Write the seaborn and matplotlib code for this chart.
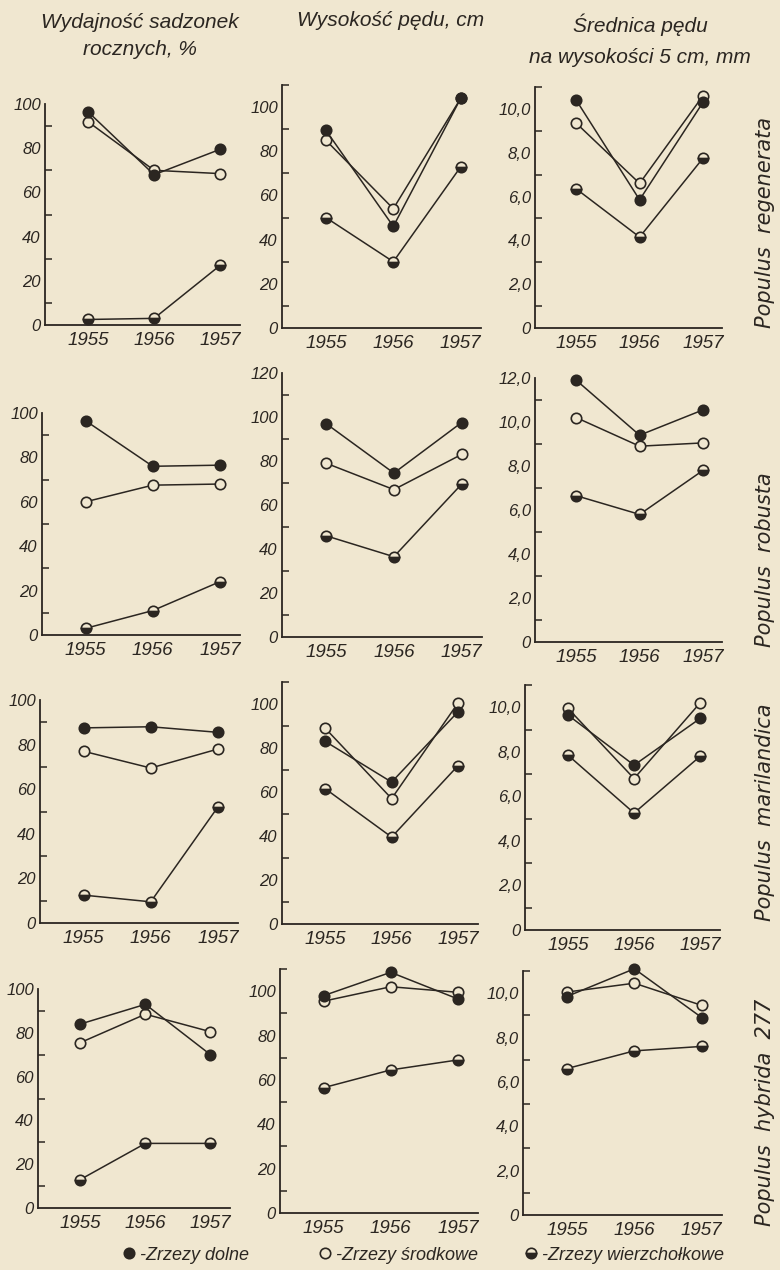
import matplotlib
matplotlib.use("Agg")
import matplotlib.pyplot as plt
from matplotlib.lines import Line2D
import seaborn as sns

sns.set_theme(style="white")
TEXT_FONT = ["Liberation Sans", "DejaVu Sans"]
plt.rcParams["font.family"] = TEXT_FONT
plt.rcParams["font.style"] = "italic"

PAPER = "#f0e7d0"
INK = "#2b2621"

# ---------------------------------------------------------------- data
years = [1955, 1956, 1957]
species = ["Populus  regenerata", "Populus  robusta",
           "Populus  marilandica", "Populus  hybrida  277"]

# Wydajność sadzonek rocznych, %  (one list per species, values for 1955-1957)
yield_dolne = [[96.5, 68, 79.5], [96.5, 76, 76.5], [87.5, 88, 85.5], [84, 93, 70]]
yield_srodkowe = [[92, 70, 68.5], [60, 67.5, 68], [77, 69.5, 78], [75.5, 88.5, 80.5]]
yield_wierzch = [[2.5, 3, 27], [3, 11, 24], [12.5, 9.5, 52], [13, 29.5, 29.5]]

# Wysokość pędu, cm
height_dolne = [[89.5, 46, 104], [97, 74.5, 97.5], [83, 64.5, 96.5], [98, 108.5, 96.5]]
height_srodkowe = [[85, 54, 104], [79, 67, 83], [89, 57, 100.5], [95.5, 102, 99.5]]
height_wierzch = [[50, 30, 73], [46, 36.5, 69.5], [61.5, 39.5, 72], [56.5, 64.5, 69]]

# Średnica pędu na wysokości 5 cm, mm
diam_dolne = [[10.4, 5.85, 10.3], [11.9, 9.4, 10.55], [9.65, 7.4, 9.5], [9.85, 11.1, 8.9]]
diam_srodkowe = [[9.35, 6.6, 10.6], [10.2, 8.9, 9.05], [9.95, 6.8, 10.2], [10.05, 10.45, 9.45]]
diam_wierzch = [[6.35, 4.15, 7.75], [6.65, 5.8, 7.8], [7.85, 5.25, 7.8], [6.6, 7.4, 7.6]]

column_titles = ["Wydajność sadzonek\nrocznych, %", "Wysokość pędu, cm",
                 "Średnica pędu\nna wysokości 5 cm, mm"]
legend_labels = ["-Zrzezy dolne", "-Zrzezy środkowe", "-Zrzezy wierzchołkowe"]

# axis tops per row and column
yield_top = [100, 100, 100, 100]
height_top = [110, 120, 110, 110]
diam_top = [11, 12, 11, 11]

# ---------------------------------------------------------------- layout
W, H = 780, 1270
fig = plt.figure(figsize=(W / 100, H / 100), dpi=100, facecolor=PAPER)


def box(x0, top, x1, bottom):
    return [x0 / W, 1 - bottom / H, (x1 - x0) / W, (bottom - top) / H]


boxes = [
    [box(45, 104, 240, 325), box(282, 85, 481, 328), box(535, 87, 722, 328)],
    [box(42, 413, 240, 635), box(282, 373, 482, 637), box(535, 378, 722, 642)],
    [box(40, 700, 238, 923), box(282, 682, 478, 924), box(525, 685, 720, 930)],
    [box(38, 989, 230, 1208), box(280, 969, 478, 1213), box(523, 971, 722, 1215)],
]
label_centers = [222, 560, 812, 1112]

series_style = [
    dict(markerfacecolor=INK, fillstyle="full", zorder=4),
    dict(markerfacecolor=PAPER, fillstyle="full", zorder=3),
    dict(markerfacecolor=INK, markerfacecoloralt=PAPER, fillstyle="bottom", zorder=3),
]

columns = [
    ([yield_dolne, yield_srodkowe, yield_wierzch], yield_top, 20, 10, False),
    ([height_dolne, height_srodkowe, height_wierzch], height_top, 20, 10, False),
    ([diam_dolne, diam_srodkowe, diam_wierzch], diam_top, 2, 1, True),
]


def fmt(v, decimal):
    if v == 0:
        return "0"
    return f"{v:.1f}".replace(".", ",") if decimal else f"{v:g}"


for r in range(4):
    for c, (series, tops, major, minor, decimal) in enumerate(columns):
        ax = fig.add_axes(boxes[r][c])
        ax.set_facecolor("none")
        for vals, st in zip(series, series_style):
            sns.lineplot(x=years, y=vals[r], ax=ax, color=INK, lw=1.1,
                         marker="o", markersize=7.5, markeredgecolor=INK,
                         markeredgewidth=1.2, clip_on=False, errorbar=None,
                         legend=False, **st)
        top = tops[r]
        ax.set_xlim(1954.35, 1957.3)
        ax.set_ylim(0, top)
        ax.set_xticks(years)
        ax.set_xticklabels([str(y) for y in years])
        n_major = int(round(top / major))
        majors = [i * major for i in range(n_major + 1) if i * major <= top + 1e-9]
        ax.set_yticks(majors)
        ax.set_yticklabels([fmt(v, decimal) for v in majors])
        n_minor = int(round(top / minor))
        ax.set_yticks([i * minor for i in range(n_minor + 1)], minor=True)
        ax.set_xlabel("")
        ax.set_ylabel("")
        for side in ("top", "right"):
            ax.spines[side].set_visible(False)
        for side in ("left", "bottom"):
            ax.spines[side].set_color(INK)
            ax.spines[side].set_linewidth(1.3)
        ax.tick_params(axis="x", direction="in", length=5, width=1.1, pad=5,
                       labelsize=13.5, colors=INK)
        ax.tick_params(axis="y", which="both", direction="in", length=5,
                       width=1.1, pad=3, labelsize=12, colors=INK)
        ax.tick_params(axis="y", which="minor", left=True)

    fig.text(765 / W, 1 - label_centers[r] / H, species[r], rotation=90,
             ha="center", va="center", fontsize=15, color=INK,
             family=["DejaVu Sans"], style="italic")

# column headings
fig.text(140 / W, 1 - 36 / H, column_titles[0], ha="center", va="center",
         fontsize=15, color=INK, linespacing=1.55)
fig.text(391 / W, 1 - 20 / H, column_titles[1], ha="center", va="center",
         fontsize=15, color=INK)
fig.text(640 / W, 1 - 40 / H, column_titles[2], ha="center", va="center",
         fontsize=15, color=INK, linespacing=1.8)

# key: one entry per cutting type, each anchored at its own left edge
legend_left = [122, 318, 524]
legend_styles = [dict(mfc=INK), dict(mfc=PAPER),
                 dict(mfc=INK, mfcalt=PAPER, fillstyle="bottom")]
for x0, lab, st in zip(legend_left, legend_labels, legend_styles):
    h = Line2D([], [], ls="none", marker="o", ms=7.5, mec=INK, mew=1.2, **st)
    fig.legend([h], [lab], loc="center left",
               bbox_to_anchor=(x0 / W, 1 - 1255 / H), frameon=False,
               fontsize=13, handletextpad=0.2, handlelength=0.8,
               borderpad=0, borderaxespad=0, labelcolor=INK)

fig.savefig("out.png", dpi=100, facecolor=PAPER)
